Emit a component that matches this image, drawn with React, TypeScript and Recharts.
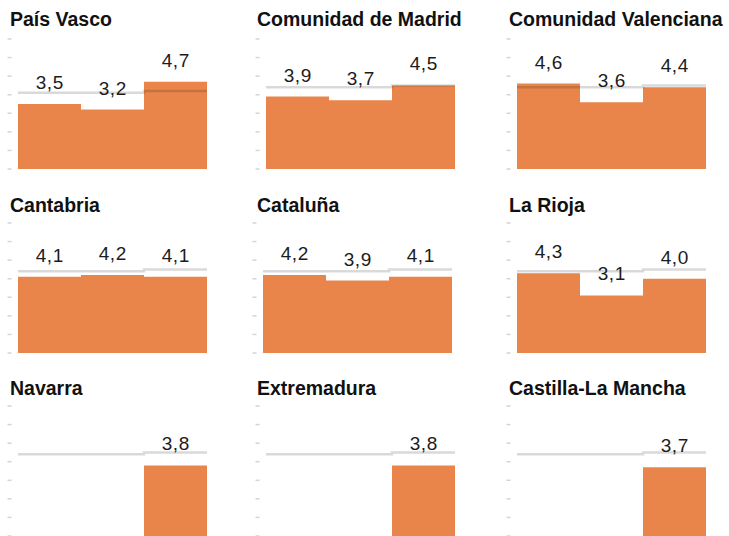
import { ComposedChart, Bar, Line, XAxis, YAxis, LabelList } from "recharts";

const periods = ["Periodo 1", "Periodo 2", "Periodo 3"];

const regions = [
  "País Vasco",
  "Comunidad de Madrid",
  "Comunidad Valenciana",
  "Cantabria",
  "Cataluña",
  "La Rioja",
  "Navarra",
  "Extremadura",
  "Castilla-La Mancha",
];

const paisVasco = [3.5, 3.2, 4.7];
const madrid = [3.9, 3.7, 4.5];
const valencia = [4.6, 3.6, 4.4];
const cantabria = [4.1, 4.2, 4.1];
const cataluna = [4.2, 3.9, 4.1];
const laRioja = [4.3, 3.1, 4.0];
const navarra = [null, null, 3.8];
const extremadura = [null, null, 3.8];
const castillaLaMancha = [null, null, 3.7];

// grey reference step (one value per period)
const refPaisVasco = [4.1, 4.1, 4.2];
const refSpain = [4.4, 4.4, 4.5];

const regionValues = [paisVasco, madrid, valencia, cantabria, cataluna, laRioja, navarra, extremadura, castillaLaMancha];
const regionRefs = [refPaisVasco, refSpain, refSpain, refSpain, refSpain, refSpain, refSpain, refSpain, refSpain];

const yTicks = [0, 1, 2, 3, 4, 5, 6, 7];

// layout
const TITLE_X = [10, 257, 509];
const PLOT_X = [17.5, 266, 516.5];
const PLOT_TOP = [39, 223.3, 405.7];
const TITLE_BASE = [26.7, 212.3, 395];
const PLOT_W = 189;
const PLOT_H = 130;
const Y_W = 18;
const M = { top: 4, right: 4, bottom: 2, left: 0 };
const SHIFT: Record<number, number> = { 4: -3 };

const ORANGE = "#e9854a";
const FONT = "'Liberation Sans', Arial, sans-serif";

const fmt = (v: any) => (v == null ? "" : Number(v).toFixed(1).replace(".", ","));

function DashTick(props: any) {
  const { x, y } = props;
  return <line x1={x - 4} x2={x} y1={y} y2={y} stroke="#cfd5dc" strokeWidth={1.5} />;
}

function ValueLabel(props: any) {
  const { x, y, width, value } = props;
  if (value == null) return null;
  return (
    <text
      x={Number(x) + Number(width) / 2 + 0.3}
      y={Number(y) - 15}
      textAnchor="middle"
      fontFamily={FONT}
      fontSize={19}
      letterSpacing={0.6}
      fill="#1c1c1c"
    >
      {fmt(value)}
    </text>
  );
}

function Panel({ idx }: { idx: number }) {
  const row = Math.floor(idx / 3);
  const col = idx % 3;
  const vals = regionValues[idx];
  const refs = regionRefs[idx];
  const data = periods.map((p, i) => ({ period: p, value: vals[i] }));
  const stepData = [...refs, refs[refs.length - 1]].map((v, i) => ({ x: i, ref: v }));
  const plotLeft = PLOT_X[col] + (SHIFT[idx] || 0);

  return (
    <>
      <div
        style={{
          position: "absolute",
          left: TITLE_X[col],
          top: TITLE_BASE[row] - 16.5,
          fontFamily: FONT,
          fontWeight: 700,
          fontSize: 19.5,
          lineHeight: 1,
          color: "#111",
          whiteSpace: "nowrap",
        }}
      >
        {regions[idx]}
      </div>
      <div style={{ position: "absolute", left: plotLeft - Y_W, top: PLOT_TOP[row] - M.top }}>
        <ComposedChart
          width={Y_W + PLOT_W + M.right}
          height={M.top + PLOT_H + M.bottom}
          data={data}
          margin={M}
          barCategoryGap={0}
        >
          <XAxis xAxisId="cat" dataKey="period" hide />
          <XAxis xAxisId="step" type="number" dataKey="x" domain={[0, 3]} hide />
          <YAxis
            domain={[0, 7]}
            ticks={yTicks}
            interval={0}
            width={Y_W}
            axisLine={false}
            tickLine={false}
            tickSize={0}
            tickMargin={6.5}
            tick={<DashTick />}
          />
          <Bar xAxisId="cat" dataKey="value" fill={ORANGE} isAnimationActive={false}>
            <LabelList dataKey="value" content={<ValueLabel />} />
          </Bar>
          <Line
            xAxisId="step"
            data={stepData}
            dataKey="ref"
            type="stepAfter"
            stroke="#000"
            strokeOpacity={0.15}
            strokeWidth={2.5}
            dot={false}
            activeDot={false}
            isAnimationActive={false}
          />
        </ComposedChart>
      </div>
    </>
  );
}

export default function App() {
  return (
    <div
      style={{
        position: "absolute",
        left: 0,
        top: 0,
        width: 729,
        height: 536,
        overflow: "hidden",
        background: "#fff",
      }}
    >
      {regions.map((_, i) => (
        <Panel key={i} idx={i} />
      ))}
    </div>
  );
}
